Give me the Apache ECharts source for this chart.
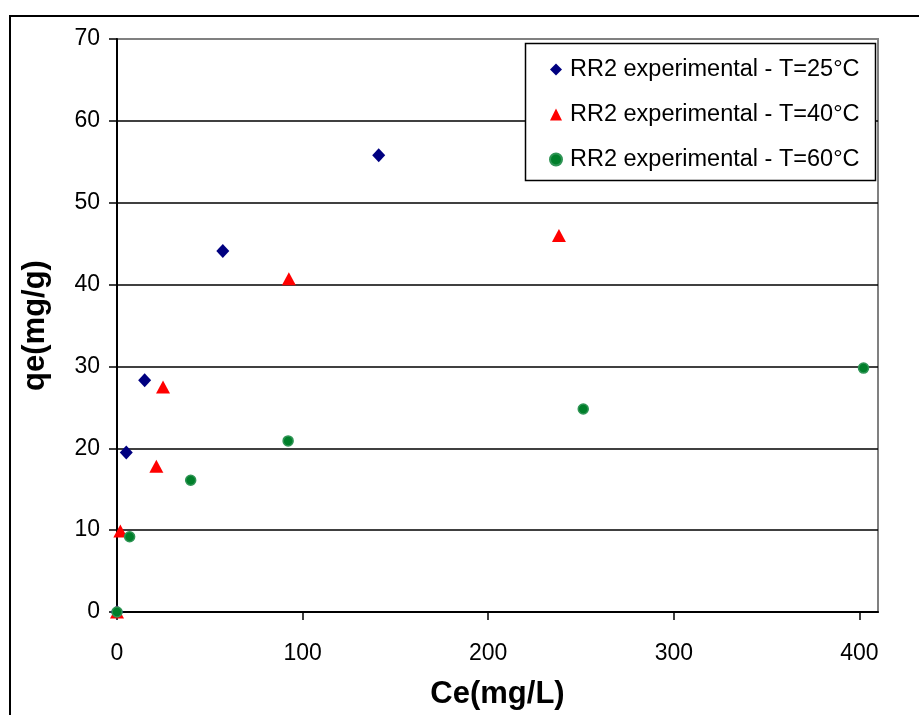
<!DOCTYPE html>
<html>
<head>
<meta charset="utf-8">
<script src="https://cdn.jsdelivr.net/npm/echarts@6/dist/echarts.min.js"></script>
<style>
  html, body { margin: 0; padding: 0; background: #fff; }
  #chart { width: 919px; height: 715px; }
</style>
</head>
<body>
<div id="chart"></div>
<script>
// Adsorption isotherm of RR2: equilibrium concentration Ce (mg/L) vs uptake qe (mg/g)
const seriesNames = [
  'RR2 experimental - T=25°C',
  'RR2 experimental - T=40°C',
  'RR2 experimental - T=60°C'
];
const ce25 = [0, 5, 14.9, 57, 141];
const qe25 = [0, 19.5, 28.3, 44.1, 55.8];
const ce40 = [0, 1.8, 21.2, 24.8, 92.6, 238.1];
const qe40 = [0, 9.9, 17.8, 27.5, 40.7, 46.0];
const ce60 = [0, 6.8, 39.7, 92.2, 251.2, 402.2];
const qe60 = [0, 9.2, 16.1, 20.9, 24.8, 29.8];
const xTicks = [0, 100, 200, 300, 400];
const yTicks = [0, 10, 20, 30, 40, 50, 60, 70];

const pairs = (xs, ys) => xs.map((x, i) => [x, ys[i]]);
const FONT = '"Liberation Sans", Arial, sans-serif';

const chart = echarts.init(document.getElementById('chart'), null, { renderer: 'canvas' });

chart.setOption({
  animation: false,
  backgroundColor: '#fff',
  grid: {
    left: 117, right: 41, top: 39, bottom: 101.5,
    show: true, borderColor: '#808080', borderWidth: 2, backgroundColor: 'transparent'
  },
  graphic: [
    { type: 'rect', shape: { x: 10, y: 16, width: 1000, height: 1000 },
      style: { fill: 'none', stroke: '#000', lineWidth: 2 }, z: -1 },
    { type: 'rect', shape: { x: 525.5, y: 43.5, width: 350, height: 137 },
      style: { fill: '#fff', stroke: '#000', lineWidth: 1.5 }, z: 10 }
  ],
  legend: {
    orient: 'vertical',
    left: 549, top: 57.5,
    padding: 0,
    itemGap: 21,
    itemWidth: 12, itemHeight: 12,
    z: 20,
    textStyle: { fontFamily: FONT, fontSize: 23.5, color: '#000', lineHeight: 23.5,
      padding: [0, 0, 0, 3] },
    data: seriesNames
  },
  xAxis: {
    type: 'value',
    min: 0, max: 410, interval: 100,
    name: 'Ce(mg/L)',
    nameLocation: 'middle',
    nameGap: 67,
    nameTextStyle: { fontFamily: FONT, fontSize: 31, fontWeight: 'bold', color: '#000' },
    axisLine: { show: true, onZero: false, lineStyle: { color: '#000', width: 2 } },
    axisTick: { show: true, inside: false, length: 8, lineStyle: { color: '#000', width: 1.5 },
      customValues: xTicks },
    axisLabel: { fontFamily: FONT, fontSize: 23, color: '#000', margin: 30,
      customValues: xTicks },
    splitLine: { show: false }
  },
  yAxis: {
    type: 'value',
    min: 0, max: 70, interval: 10,
    name: 'qe(mg/g)',
    nameLocation: 'middle',
    nameGap: 66,
    nameTextStyle: { fontFamily: FONT, fontSize: 31, fontWeight: 'bold', color: '#000' },
    axisLine: { show: true, onZero: false, lineStyle: { color: '#000', width: 2 } },
    axisTick: { show: true, inside: false, length: 8, lineStyle: { color: '#000', width: 1.5 } },
    axisLabel: { fontFamily: FONT, fontSize: 23, color: '#000', margin: 17,
      formatter: v => (yTicks.includes(v) ? String(v) : '') },
    splitLine: { show: true, lineStyle: { width: 1.5,
      color: ['#000', '#000', '#000', '#000', '#000', '#000', '#000', '#808080'] } }
  },
  series: [
    {
      name: seriesNames[0], type: 'scatter',
      symbol: 'diamond', symbolSize: [13, 14],
      itemStyle: { color: '#000080', opacity: 1 },
      data: pairs(ce25, qe25)
    },
    {
      name: seriesNames[1], type: 'scatter',
      symbol: 'triangle', symbolSize: [14, 13],
      itemStyle: { color: '#ff0000', opacity: 1 },
      data: pairs(ce40, qe40)
    },
    {
      name: seriesNames[2], type: 'scatter',
      symbol: 'circle', symbolSize: 10,
      itemStyle: { color: '#007f2a', borderColor: '#2f9455', borderWidth: 1.5, opacity: 1 },
      data: pairs(ce60, qe60)
    }
  ]
});
</script>
</body>
</html>
